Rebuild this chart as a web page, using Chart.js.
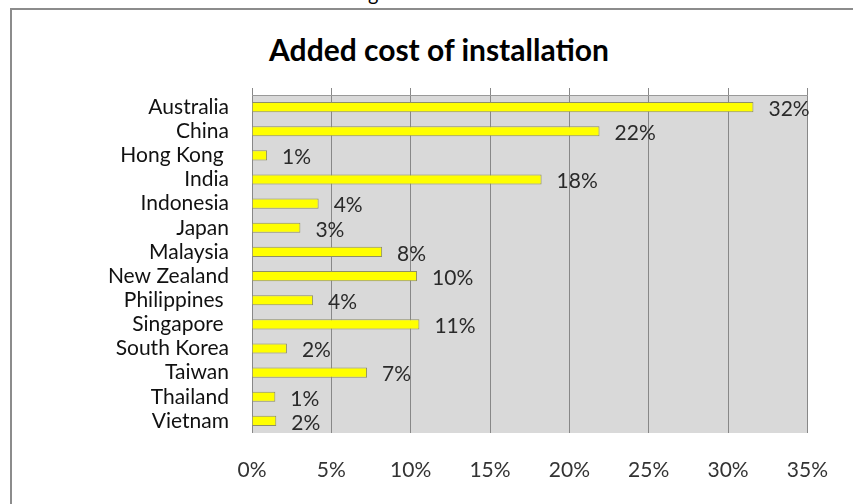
<!DOCTYPE html>
<html>
<head>
<meta charset="utf-8">
<title>Added cost of installation</title>
<script src="https://cdn.jsdelivr.net/npm/chart.js@4/dist/chart.umd.min.js"></script>
<style>
  html, body { margin: 0; padding: 0; background: #fff; overflow: hidden; }
  body { width: 853px; height: 504px; position: relative; font-family: Lato, sans-serif; }
  .edge-top { position: absolute; left: 10px; top: 8px; width: 843px; height: 2px; background: #8c8c8c; }
  .edge-left { position: absolute; left: 10px; top: 8px; width: 2px; height: 496px; background: #8c8c8c; }
  .cut { position: absolute; left: 368px; top: -17px; font-size: 20px; line-height: 20px; color: #000; }
  .headline {
    position: absolute; left: 0; top: 35px; width: 878px; text-align: center;
    font-weight: bold; font-size: 30px; line-height: 29px; color: #000;
  }
  #wrap { position: absolute; left: 0; top: 0; width: 853px; height: 504px; }
</style>
</head>
<body>
<div class="edge-top"></div>
<div class="edge-left"></div>
<div class="cut">g</div>
<div class="headline">Added cost of installation</div>
<div id="wrap"><canvas id="costChart"></canvas></div>
<script>
// Categories and values (percent of base cost)
const countries = ['Australia', 'China', 'Hong Kong ', 'India', 'Indonesia', 'Japan', 'Malaysia',
    'New Zealand', 'Philippines ', 'Singapore ', 'South Korea', 'Taiwan', 'Thailand', 'Vietnam'];
const addedCost = [31.6, 21.9, 0.95, 18.25, 4.2, 3.05, 8.2, 10.4, 3.85, 10.55, 2.2, 7.25, 1.47, 1.53];
const tickLabels = ['0%', '5%', '10%', '15%', '20%', '25%', '30%', '35%'];
const axisMax = 35;
const axisStep = 5;

const labelFont = { family: 'Lato', size: 21 };

// Grey plot area behind the grid
const plotBackground = {
    id: 'plotBackground',
    beforeDraw(chart) {
        const { ctx, chartArea } = chart;
        ctx.save();
        ctx.fillStyle = '#d9d9d9';
        ctx.fillRect(chartArea.left, chartArea.top, chartArea.right - chartArea.left, chartArea.bottom - chartArea.top);
        ctx.restore();
    }
};

// Rounded value printed past the end of each bar
const valueLabels = {
    id: 'valueLabels',
    afterDatasetsDraw(chart) {
        const ctx = chart.ctx;
        const meta = chart.getDatasetMeta(0);
        ctx.save();
        ctx.font = labelFont.size + 'px ' + labelFont.family;
        ctx.fillStyle = '#2a2a2a';
        ctx.textAlign = 'left';
        ctx.textBaseline = 'middle';
        meta.data.forEach((bar, i) => {
            ctx.fillText(Math.round(addedCost[i]) + '%', bar.x + 15, bar.y + 2);
        });
        ctx.restore();
    }
};

new Chart(document.getElementById('costChart'), {
    type: 'bar',
    data: {
        labels: countries,
        datasets: [{
            data: addedCost,
            backgroundColor: '#ffff00',
            borderColor: '#8f8f66',
            borderWidth: 1,
            barPercentage: 0.42,
            categoryPercentage: 1.0
        }]
    },
    options: {
        indexAxis: 'y',
        responsive: true,
        maintainAspectRatio: false,
        animation: false,
        layout: { padding: { left: 0, right: 36, top: 0, bottom: 0 } },
        plugins: {
            legend: { display: false },
            tooltip: { enabled: false }
        },
        scales: {
            x: {
                position: 'bottom',
                min: 0,
                max: axisMax,
                ticks: {
                    stepSize: axisStep,
                    padding: 25,
                    color: '#333',
                    font: labelFont,
                    callback: (value, index) => tickLabels[index]
                },
                grid: { color: '#888', drawTicks: false },
                border: { display: false },
                afterFit(scale) { scale.height = 71; }
            },
            x2: {
                position: 'top',
                min: 0,
                max: axisMax,
                ticks: { stepSize: axisStep, display: false },
                grid: { color: '#888', drawOnChartArea: false, tickLength: 7 },
                border: { color: '#999' },
                afterFit(scale) { scale.height = 95; }
            },
            y: {
                ticks: { padding: 23, color: '#111', font: labelFont, autoSkip: false },
                grid: { display: false, drawTicks: false },
                border: { display: false },
                afterFit(scale) { scale.width = 252; }
            }
        }
    },
    plugins: [plotBackground, valueLabels]
});
</script>
</body>
</html>
